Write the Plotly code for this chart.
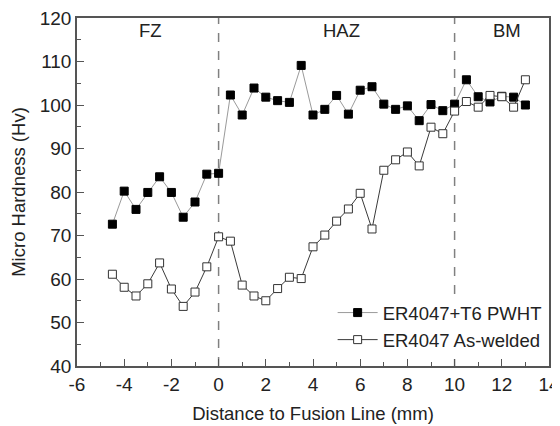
import plotly.graph_objects as go

distance = [-4.5, -4.0, -3.5, -3.0, -2.5, -2.0, -1.5, -1.0, -0.5, 0.0,
            0.5, 1.0, 1.5, 2.0, 2.5, 3.0, 3.5, 4.0, 4.5, 5.0,
            5.5, 6.0, 6.5, 7.0, 7.5, 8.0, 8.5, 9.0, 9.5, 10.0,
            10.5, 11.0, 11.5, 12.0, 12.5, 13.0]

pwht = [72.6, 80.2, 76.0, 79.9, 83.5, 79.9, 74.2, 77.7, 84.1, 84.3,
        102.3, 97.7, 103.9, 101.8, 101.0, 100.6, 109.1, 97.7, 99.0, 102.2,
        97.9, 103.4, 104.2, 100.2, 99.0, 99.8, 96.4, 100.1, 98.7, 100.2,
        105.8, 101.9, 100.7, 102.0, 101.8, 100.0]

as_welded = [61.1, 58.1, 56.1, 58.9, 63.7, 57.7, 53.7, 57.0, 62.8, 69.7,
             68.7, 58.6, 56.1, 55.0, 57.8, 60.4, 60.1, 67.4, 70.1, 73.3,
             76.1, 79.7, 71.5, 85.0, 87.4, 89.2, 86.0, 94.9, 93.4, 98.6,
             100.8, 99.5, 102.2, 101.9, 99.5, 105.8]

x_tick_values = [-6, -4, -2, 0, 2, 4, 6, 8, 10, 12, 14]
x_tick_labels = ["-6", "-4", "-2", "0", "2", "4", "6", "8", "10", "12", "14"]
y_tick_values = [40, 50, 60, 70, 80, 90, 100, 110, 120]

zone_labels = ["FZ", "HAZ", "BM"]
zone_label_x = [-2.9, 5.2, 12.2]
zone_boundaries = [0, 10]

FONT = "Arial, Liberation Sans, sans-serif"

fig = go.Figure()
fig.add_trace(go.Scatter(
    x=distance, y=pwht, mode="lines+markers", name="ER4047+T6 PWHT",
    line=dict(color="#9a9a9a", width=1),
    marker=dict(symbol="square", size=8, color="black", line=dict(color="black", width=1)),
))
fig.add_trace(go.Scatter(
    x=distance, y=as_welded, mode="lines+markers", name="ER4047 As-welded",
    line=dict(color="#3a3a3a", width=1),
    marker=dict(symbol="square", size=8, color="white", line=dict(color="#333333", width=1)),
))

for xb in zone_boundaries:
    fig.add_shape(type="line", x0=xb, x1=xb, y0=40, y1=120, xref="x", yref="y",
                  line=dict(color="#808080", width=1.5, dash="dash"), layer="below")

for txt, xx in zip(zone_labels, zone_label_x):
    fig.add_annotation(x=xx, y=117.1, text=txt, showarrow=False,
                       font=dict(family=FONT, size=18.5, color="#222"))

axis_common = dict(
    showline=True, linecolor="#555", linewidth=1.5, mirror=True,
    ticks="inside", ticklen=7, tickwidth=1.2, tickcolor="#555",
    showgrid=False, zeroline=False, automargin=False,
    ticklabeloverflow="allow",
    tickfont=dict(family=FONT, size=19, color="#222"),
)

fig.update_xaxes(range=[-6, 14], tickmode="array", tickvals=x_tick_values, ticktext=x_tick_labels,
                 minor=dict(ticks="inside", ticklen=4, dtick=1, tick0=-6, tickcolor="#555"),
                 title=dict(text="Distance to Fusion Line (mm)", standoff=14,
                            font=dict(family=FONT, size=18.5, color="#222")),
                 **axis_common)
fig.update_yaxes(range=[40, 120], tickmode="array", tickvals=y_tick_values,
                 minor=dict(ticks="inside", ticklen=4, dtick=5, tick0=40, tickcolor="#555"),
                 title=dict(text="Micro Hardness (Hv)", standoff=10,
                            font=dict(family=FONT, size=18.5, color="#222")),
                 **axis_common)

fig.update_layout(
    width=552, height=418,
    margin=dict(l=69, r=11, t=10, b=60),
    plot_bgcolor="white", paper_bgcolor="white",
    font=dict(family=FONT, size=18.5, color="#222"),
    legend=dict(x=0.995, y=0.02, xanchor="right", yanchor="bottom",
                bgcolor="white", borderwidth=0,
                font=dict(family=FONT, size=18.5, color="#222"),
                tracegroupgap=0, itemwidth=40),
    showlegend=True,
)

fig.write_html("out.html")
